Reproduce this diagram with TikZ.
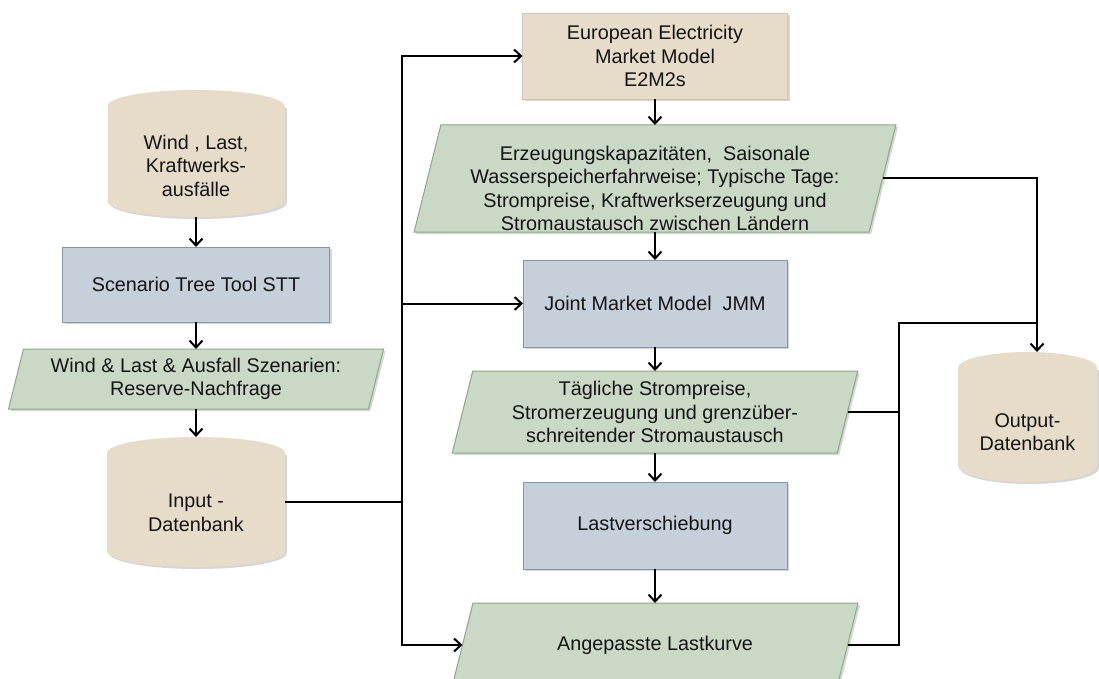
\documentclass[tikz,border=0pt]{standalone}
\usepackage{fontspec}
\setmainfont{Liberation Sans}
\usetikzlibrary{arrows.meta,calc}
\definecolor{beige}{HTML}{E6DCC9}
\definecolor{bluef}{HTML}{C5D0DA}
\definecolor{blued}{HTML}{8497A8}
\definecolor{greenf}{HTML}{C9D9C5}
\definecolor{greend}{HTML}{8FA78A}
\definecolor{txtc}{HTML}{141414}
\definecolor{shad}{HTML}{D6D6D6}
\tikzset{
 lbl/.style={font=\fontsize{19.8}{23.5}\selectfont, text=txtc, align=center, inner sep=0pt},
 holder/.style={rectangle, inner sep=0pt, outer sep=0pt},
 bluebox/.style={fill=bluef, draw=blued, line width=1pt},
 beigebox/.style={fill=beige, draw=beige!90!black, line width=0.6pt},
 greenpara/.style={fill=greenf, draw=greend, line width=1pt},
 shadowfill/.style={fill=shad},
 conn/.style={line width=2pt, black},
 arr/.style={conn, -{Straight Barb[length=7pt,width=13pt]}},
}
% cylinder: name cx cy w h ry textshift text
\newcommand\cyl[8]{%
 \fill[shadowfill] (#2-#4/2+2,#3-#5/2+#6+2) rectangle (#2+#4/2+2,#3+#5/2-#6+2);
 \fill[shadowfill] (#2+2,#3+#5/2-#6+2) ellipse [x radius=#4/2, y radius=#6];
 \fill[beige] (#2-#4/2,#3-#5/2+#6) rectangle (#2+#4/2,#3+#5/2-#6);
 \fill[beige] (#2,#3-#5/2+#6) ellipse [x radius=#4/2, y radius=#6];
 \fill[beige] (#2,#3+#5/2-#6) ellipse [x radius=#4/2, y radius=#6];
 \node[holder, minimum width=#4, minimum height=#5, label={[lbl,yshift=#7]center:{#8}}] (#1) at (#2,#3) {};
}
% box: name cx cy w h style text
\newcommand\rbox[7]{%
 \fill[shadowfill] (#2-#4/2+2,#3-#5/2+2) rectangle (#2+#4/2+2,#3+#5/2+2);
 \node[holder, #6, lbl, minimum width=#4, minimum height=#5] (#1) at (#2,#3) {#7};
}
% parallelogram: name cx cy w h textshift text
\newcommand\para[7]{%
 \fill[shadowfill] (#2-#4/2+#5/8+2,#3-#5/2+2) -- (#2+#4/2+#5/8+2,#3-#5/2+2) -- (#2+#4/2-#5/8+2,#3+#5/2+2) -- (#2-#4/2-#5/8+2,#3+#5/2+2) -- cycle;
 \draw[greenpara] (#2-#4/2+#5/8,#3-#5/2) -- (#2+#4/2+#5/8,#3-#5/2) -- (#2+#4/2-#5/8,#3+#5/2) -- (#2-#4/2-#5/8,#3+#5/2) -- cycle;
 \node[holder, minimum width=#4, minimum height=#5, label={[lbl,yshift=#6]center:{#7}}] (#1) at (#2,#3) {};
}
\begin{document}
\begin{tikzpicture}[x=1pt,y=-1pt]
\useasboundingbox (0,0) rectangle (1099,679);
\fill[white] (0,0) rectangle (1099,679);
\clip (0,0) rectangle (1099,679);

\cyl{wind}{196}{153.5}{177}{127}{16}{-12pt}{Wind , Last,\\Kraftwerks-\\ausfälle}
\rbox{stt}{196}{284.5}{267}{75}{bluebox}{Scenario Tree Tool STT}
\para{szen}{196}{379}{360}{60}{0pt}{Wind \& Last \& Ausfall Szenarien:\\Reserve-Nachfrage}
\cyl{input}{196}{502}{178}{130}{16}{-11pt}{Input -\\Datenbank}

\rbox{e2m}{655}{56}{265}{86}{beigebox}{European Electricity\\Market Model\\E2M2s}
\para{erz}{655}{178.5}{455}{107}{-10pt}{Erzeugungskapazitäten,~ Saisonale\\Wasserspeicherfahrweise; Typische Tage:\\Strompreise, Kraftwerkserzeugung und\\Stromaustausch zwischen Ländern}
\rbox{jmm}{655}{303.5}{264}{87}{bluebox}{Joint Market Model~ JMM}
\para{taeg}{655}{412}{385}{82}{0pt}{Tägliche Strompreise,\\Stromerzeugung und grenzüber-\\schreitender Stromaustausch}
\rbox{last}{655}{525.5}{264}{87}{bluebox}{Lastverschiebung}
\para{ang}{655}{645}{385}{84}{0pt}{Angepasste Lastkurve}
\cyl{out}{1027.5}{417}{139}{130}{16}{-15pt}{Output-\\Datenbank}

\coordinate (bt) at (402,56);
\coordinate (bb) at (402,645);
\coordinate (rb) at (899,323);
\coordinate (oa) at (1037,323);

\draw[arr] (wind.south) -- (stt.north);
\draw[arr] (stt.south) -- (szen.north);
\draw[arr] (szen.south) -- (input.north);
\draw[conn] (input.east) -- (input.east -| bt);
\draw[arr] (input.east -| bt) -- (bt) -- (e2m.west);
\draw[arr] (input.east -| bt) -- (bb) -- (ang.west);
\draw[arr] (jmm.west -| bt) -- (jmm.west);

\draw[arr] (e2m.south) -- (erz.north);
\draw[arr] (erz.south) -- (jmm.north);
\draw[arr] (jmm.south) -- (taeg.north);
\draw[arr] (taeg.south) -- (last.north);
\draw[arr] (last.south) -- (ang.north);

\draw[arr] (erz.east) -| (out.north -| oa);
\draw[conn] (ang.east) -| (rb) -- (oa);
\draw[conn] (taeg.east) -- (taeg.east -| rb);
\end{tikzpicture}
\end{document}
